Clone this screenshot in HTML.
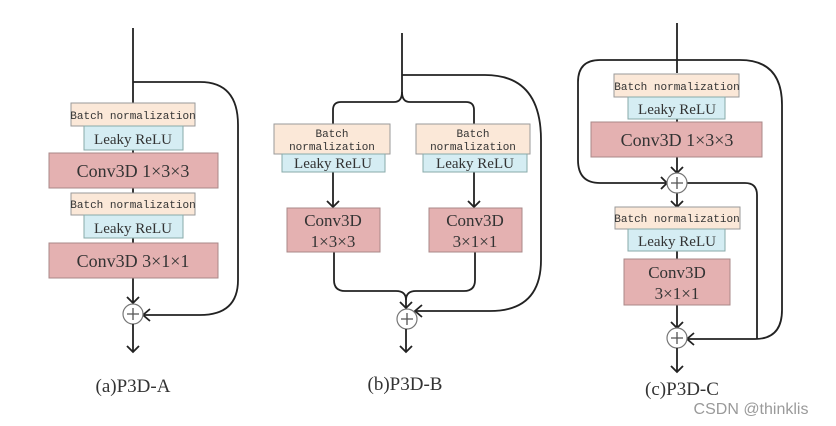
<!DOCTYPE html>
<html><head><meta charset="utf-8"><style>
html,body{margin:0;padding:0;background:#fff;}
svg{display:block;}
text{font-family:"Liberation Serif","Noto Serif CJK SC",serif;fill:#333;}
.bn{fill:#fbe8d8;stroke:#9a9a9a;stroke-width:1;}
.lr{fill:#d5edf3;stroke:#8aa;stroke-width:1;}
.cv{fill:#e4b1b1;stroke:#a88;stroke-width:1;}
.ln{fill:none;stroke:#222;stroke-width:1.8;}
.ah{fill:none;stroke:#222;stroke-width:1.8;}
.ci{fill:#fff;stroke:#777;stroke-width:1.2;}
.m{font-family:"Liberation Mono","DejaVu Sans Mono",monospace;}
</style></head><body>
<svg width="836" height="426" viewBox="0 0 836 426" xmlns="http://www.w3.org/2000/svg">
<!-- Panel A -->
<path class="ln" d="M133 28 V103"/>
<path class="ln" d="M133 82 H200 Q238 82 238 125 V280 Q238 315 200 315 H144"/>
<path class="ah" d="M150 309 L143 315 L150 321"/>
<path class="ln" d="M133 150 V153 M133 188 V193 M133 238 V243"/>
<path class="ln" d="M133 278 V303"/>
<path class="ah" d="M127 297 L133 303 L139 297"/>
<rect class="bn" x="71" y="103" width="124" height="23"/>
<text class="m" x="133" y="119" font-size="11" text-anchor="middle">Batch normalization</text>
<rect class="lr" x="84" y="126" width="99" height="24"/>
<text x="133" y="144" font-size="15" text-anchor="middle">Leaky ReLU</text>
<rect class="cv" x="49" y="153" width="169" height="35"/>
<text x="133" y="177" font-size="18" text-anchor="middle">Conv3D 1×3×3</text>
<rect class="bn" x="71" y="193" width="124" height="22"/>
<text class="m" x="133" y="208" font-size="11" text-anchor="middle">Batch normalization</text>
<rect class="lr" x="84" y="215" width="99" height="23"/>
<text x="133" y="233" font-size="15" text-anchor="middle">Leaky ReLU</text>
<rect class="cv" x="49" y="243" width="169" height="35"/>
<text x="133" y="267" font-size="18" text-anchor="middle">Conv3D 3×1×1</text>
<circle class="ci" cx="133" cy="314" r="10"/>
<path d="M127 314 H139 M133 308 V320" stroke="#555" stroke-width="1.3"/>
<path class="ln" d="M133 324 V352"/>
<path class="ah" d="M127 346 L133 352 L139 346"/>
<text x="133" y="392" font-size="19" text-anchor="middle">(a)P3D-A</text>

<!-- Panel B -->
<path class="ln" d="M402 33 V92 Q402 102 394 102 H341 Q333 102 333 110 V124"/>
<path class="ln" d="M402 92 Q402 102 410 102 H466 Q474 102 474 110 V124"/>
<path class="ln" d="M402 75 H485 Q541 75 541 140 V260 Q541 311 490 311 H416"/>
<path class="ah" d="M422 305 L415 311 L422 317"/>
<path class="ln" d="M333 172 V207 M474 172 V207"/>
<path class="ah" d="M327 201 L333 207 L339 201 M468 201 L474 207 L480 201"/>
<path class="ln" d="M334 252 V280 Q334 291 345 291 H396 Q406 291 406 300 V308"/>
<path class="ln" d="M475 252 V280 Q475 291 464 291 H416 Q406 291 406 300"/>
<path class="ah" d="M400 302 L406 308 L412 302"/>
<rect class="bn" x="274" y="124" width="116" height="30"/>
<text class="m" x="332" y="137" font-size="11" text-anchor="middle">Batch</text>
<text class="m" x="332" y="150" font-size="11" text-anchor="middle">normalization</text>
<rect class="lr" x="282" y="154" width="103" height="18"/>
<text x="333" y="168" font-size="15" text-anchor="middle">Leaky ReLU</text>
<rect class="cv" x="287" y="208" width="93" height="44"/>
<text x="333" y="226" font-size="17" text-anchor="middle">Conv3D</text>
<text x="333" y="247" font-size="17" text-anchor="middle">1×3×3</text>
<rect class="bn" x="416" y="124" width="114" height="30"/>
<text class="m" x="473" y="137" font-size="11" text-anchor="middle">Batch</text>
<text class="m" x="473" y="150" font-size="11" text-anchor="middle">normalization</text>
<rect class="lr" x="423" y="154" width="104" height="18"/>
<text x="475" y="168" font-size="15" text-anchor="middle">Leaky ReLU</text>
<rect class="cv" x="429" y="208" width="93" height="44"/>
<text x="475" y="226" font-size="17" text-anchor="middle">Conv3D</text>
<text x="475" y="247" font-size="17" text-anchor="middle">3×1×1</text>
<circle class="ci" cx="407" cy="319" r="10"/>
<path d="M401 319 H413 M407 313 V325" stroke="#555" stroke-width="1.3"/>
<path class="ln" d="M406 329 V352"/>
<path class="ah" d="M400 346 L406 352 L412 346"/>
<text x="405" y="390" font-size="19" text-anchor="middle">(b)P3D-B</text>

<!-- Panel C -->
<path class="ln" d="M677 23 V73"/>
<path class="ln" d="M677 60 H600 Q578 60 578 82 V160 Q578 183 600 183 H667"/>
<path class="ah" d="M661 177 L667 183 L661 189"/>
<path class="ln" d="M677 60 H740 Q782 60 782 105 V310 Q782 339 755 339 H688"/>
<path class="ln" d="M687 183 H745 Q757 183 757 195 V339"/>
<path class="ah" d="M694 333 L687 339 L694 345"/>
<path class="ln" d="M677 97 V99 M677 119 V122 M677 157 V173"/>
<path class="ah" d="M671 167 L677 173 L683 167"/>
<path class="ln" d="M677 193 V207"/>
<path class="ah" d="M671 201 L677 207 L683 201"/>
<path class="ln" d="M677 251 V259 M677 305 V328"/>
<path class="ah" d="M671 322 L677 328 L683 322"/>
<rect class="bn" x="614" y="74" width="125" height="23"/>
<text class="m" x="677" y="90" font-size="11" text-anchor="middle">Batch normalization</text>
<rect class="lr" x="628" y="97" width="97" height="22"/>
<text x="677" y="114" font-size="15" text-anchor="middle">Leaky ReLU</text>
<rect class="cv" x="591" y="122" width="171" height="35"/>
<text x="677" y="146" font-size="18" text-anchor="middle">Conv3D 1×3×3</text>
<circle class="ci" cx="677" cy="183" r="10"/>
<path d="M671 183 H683 M677 177 V189" stroke="#555" stroke-width="1.3"/>
<rect class="bn" x="615" y="207" width="125" height="22"/>
<text class="m" x="677" y="222" font-size="11" text-anchor="middle">Batch normalization</text>
<rect class="lr" x="628" y="229" width="97" height="22"/>
<text x="677" y="246" font-size="15" text-anchor="middle">Leaky ReLU</text>
<rect class="cv" x="624" y="259" width="106" height="46"/>
<text x="677" y="278" font-size="17" text-anchor="middle">Conv3D</text>
<text x="677" y="299" font-size="17" text-anchor="middle">3×1×1</text>
<circle class="ci" cx="677" cy="338" r="10"/>
<path d="M671 338 H683 M677 332 V344" stroke="#555" stroke-width="1.3"/>
<path class="ln" d="M677 348 V372"/>
<path class="ah" d="M671 366 L677 372 L683 366"/>
<text x="682" y="395" font-size="19" text-anchor="middle">(c)P3D-C</text>
<text x="751" y="414" font-size="16" text-anchor="middle" style="font-family:'Liberation Sans',sans-serif;fill:#9a9a9a;">CSDN @thinklis</text>
</svg>
</body></html>
